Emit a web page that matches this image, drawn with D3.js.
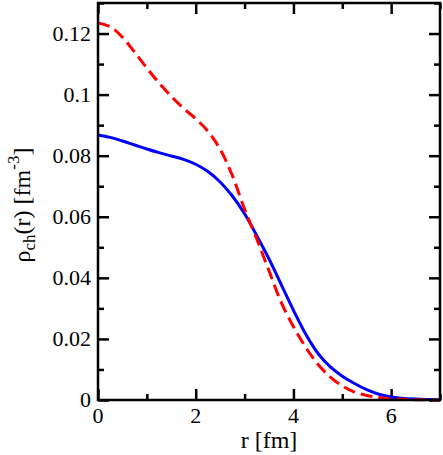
<!DOCTYPE html>
<html>
<head>
<meta charset="utf-8">
<script src="https://cdn.jsdelivr.net/npm/d3@7"></script>
</head>
<body style="margin:0">
<div id="chart"></div>
<script>
// radius grid [fm]
const rValues = [0, 0.25, 0.5, 0.75, 1.0, 1.25, 1.5, 1.75, 2.0, 2.25, 2.5, 2.75, 3.0, 3.25,
  3.5, 3.75, 4.0, 4.25, 4.5, 4.75, 5.0, 5.25, 5.5, 5.75, 6.0, 6.5, 7.0];

// dashed red curve
const rhoRed = [0.1235, 0.1222, 0.1188, 0.1139, 0.1087, 0.1038, 0.0994, 0.0955, 0.0921, 0.0880,
  0.0821, 0.0735, 0.0625, 0.0527, 0.0423, 0.0320, 0.0240, 0.0173, 0.0117, 0.0076, 0.0046,
  0.0026, 0.0015, 0.0008, 0.0004, 0.0001, 0.0];

// solid blue curve
const rhoBlue = [0.0868, 0.0860, 0.0848, 0.0835, 0.0822, 0.0810, 0.0799, 0.0788, 0.0772, 0.0748,
  0.0714, 0.0668, 0.0610, 0.0538, 0.0462, 0.0378, 0.0294, 0.0216, 0.0153, 0.0109, 0.0078,
  0.0054, 0.0034, 0.0019, 0.0010, 0.0003, 0.0001];

const xMajor = [0, 2, 4, 6];
const xMinor = [1, 3, 5, 7];
const yMajor = [0, 0.02, 0.04, 0.06, 0.08, 0.1, 0.12];
const yMinor = [0.01, 0.03, 0.05, 0.07, 0.09, 0.11, 0.13];
const yTickLabels = ["0", "0.02", "0.04", "0.06", "0.08", "0.1", "0.12"];

const width = 443, height = 455;
const mLeft = 98, mRight = 440, mTop = 3, mBottom = 400;
const fontName = "Times New Roman";

const svg = d3.select("#chart").append("svg")
  .attr("width", width)
  .attr("height", height);

const x = d3.scaleLinear().domain([0, 7]).range([mLeft, mRight]);
const y = d3.scaleLinear().domain([0, 0.13]).range([mBottom, mTop]);

//ticks on all four sides, pointing inward
function addAxis(axis, tx, ty, values, size) {
  svg.append("g")
    .attr("transform", `translate(${tx},${ty})`)
    .call(axis.tickValues(values).tickSize(size).tickFormat(""))
    .call(g => g.select(".domain").remove())
    .call(g => g.selectAll("line").attr("stroke", "#000").attr("stroke-width", 2.5));
}
addAxis(d3.axisTop(x), 0, mBottom, xMajor, 11);
addAxis(d3.axisTop(x), 0, mBottom, xMinor, 6);
addAxis(d3.axisBottom(x), 0, mTop, xMajor, 11);
addAxis(d3.axisBottom(x), 0, mTop, xMinor, 6);
addAxis(d3.axisRight(y), mLeft, 0, yMajor, 11);
addAxis(d3.axisRight(y), mLeft, 0, yMinor, 6);
addAxis(d3.axisLeft(y), mRight, 0, yMajor, 11);
addAxis(d3.axisLeft(y), mRight, 0, yMinor, 6);

//tick labels
svg.selectAll(".xlab")
  .data(xMajor)
  .join("text")
  .attr("class", "xlab")
  .attr("x", d => x(d))
  .attr("y", mBottom + 23)
  .attr("text-anchor", "middle")
  .attr("font-family", fontName)
  .attr("font-size", 22)
  .text(d => d);

svg.selectAll(".ylab")
  .data(yMajor)
  .join("text")
  .attr("class", "ylab")
  .attr("x", mLeft - 7)
  .attr("y", d => y(d) + 7)
  .attr("text-anchor", "end")
  .attr("font-family", fontName)
  .attr("font-size", 22)
  .text((d, i) => yTickLabels[i]);

//curves
const line = d3.line()
  .x(d => x(d[0]))
  .y(d => y(d[1]))
  .curve(d3.curveCatmullRom.alpha(0.5));

svg.append("path")
  .datum(rValues.map((r, i) => [r, rhoBlue[i]]))
  .attr("d", line)
  .attr("fill", "none")
  .attr("stroke", "#0000ff")
  .attr("stroke-width", 3);

svg.append("path")
  .datum(rValues.map((r, i) => [r, rhoRed[i]]))
  .attr("d", line)
  .attr("fill", "none")
  .attr("stroke", "#ff0000")
  .attr("stroke-width", 3)
  .attr("stroke-dasharray", "12,6");

//frame
svg.append("rect")
  .attr("x", mLeft)
  .attr("y", mTop)
  .attr("width", mRight - mLeft)
  .attr("height", mBottom - mTop)
  .attr("fill", "none")
  .attr("stroke", "#000")
  .attr("stroke-width", 2.5);

//axis titles
svg.append("text")
  .attr("x", (mLeft + mRight) / 2)
  .attr("y", 448)
  .attr("text-anchor", "middle")
  .attr("font-family", fontName)
  .attr("font-size", 24)
  .text("r [fm]");

const yTitle = svg.append("text")
  .attr("transform", "translate(30,205) rotate(-90)")
  .attr("text-anchor", "middle")
  .attr("font-family", fontName)
  .attr("font-size", 24);
yTitle.append("tspan").text("ρ");
yTitle.append("tspan").attr("font-size", 17).attr("dy", 5).text("ch");
yTitle.append("tspan").attr("dy", -5).text("(r) [fm");
yTitle.append("tspan").attr("font-size", 17).attr("dy", -11).text("-3");
yTitle.append("tspan").attr("dy", 11).text("]");
</script>
</body>
</html>
